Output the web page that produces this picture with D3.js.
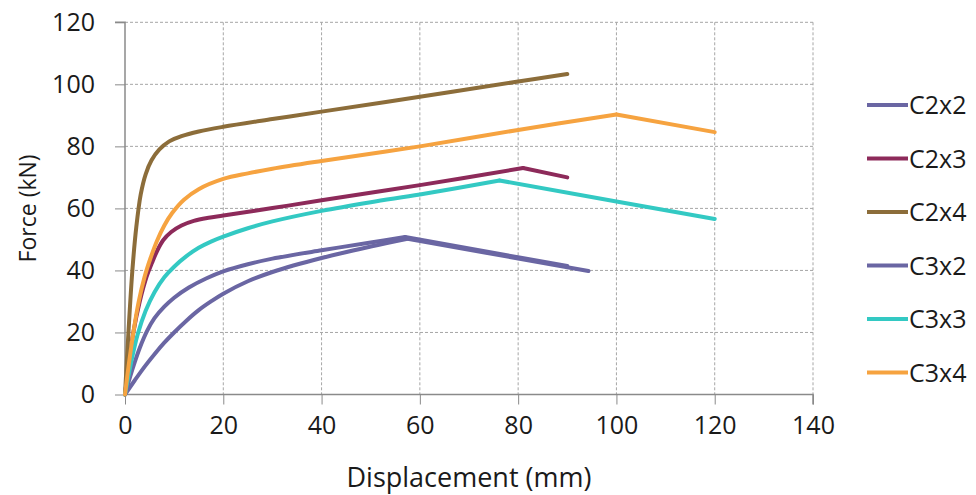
<!DOCTYPE html>
<html><head><meta charset="utf-8">
<script src="https://cdn.jsdelivr.net/npm/d3@7"></script>
<style>
html,body{margin:0;padding:0;background:#fff;}
text{font-family:"Open Sans",sans-serif;fill:#1a1a1a;}
</style></head>
<body><svg id="chart" width="976" height="495"></svg>
<script>
// ---- data ----
const seriesNames = ["C2x2","C2x3","C2x4","C3x2","C3x3","C3x4"];
const seriesColors = ["#6a66a3","#8d2a5a","#8c6d3a","#6a66a3","#33c9c3","#f6a340"];
const C2x2 = [[0,0],[1,5.5],[2,10.5],[3,15],[4.5,20.5],[6,24.6],[8,28.3],[10,31.2],[13,34.5],[16.5,37.4],[20,39.7],[25,42],[30,43.8],[40,46.5],[50,49],[57,50.8],[90,41.4]];
const C2x3 = [[0,0],[0.8,10],[1.7,20],[3,30],[4.4,38],[5.5,42.5],[6.6,46.5],[7.8,49.8],[9.4,52.4],[11.5,54.5],[14,56],[17,57],[20,57.7],[30,60.1],[40,62.6],[60,67.5],[81,73],[90,70]];
const C2x4 = [[0,0],[0.7,20],[1.5,40],[2.3,54],[3.2,64.5],[4.2,71],[5.4,75.5],[7,79],[9,81.6],[11.5,83.3],[15,84.8],[20,86.3],[30,88.8],[40,91.2],[60,96],[80,100.9],[90,103.3]];
const C3x2 = [[0,0],[2,4.6],[4,9],[6,13],[8,16.7],[10,20],[12.5,23.8],[15,27.2],[17.5,30],[20,32.5],[25,36.5],[30,39.5],[40,44],[50,47.7],[57.5,50.2],[94.3,39.8]];
const C3x3 = [[0,0],[1.2,10],[2.6,19.5],[4.2,27],[6,33],[8,37.8],[10,41.2],[12.5,44.6],[15,47.3],[17.5,49.3],[20,50.9],[25,53.6],[30,55.8],[40,59.2],[50,62],[60,64.5],[76.2,69],[100,62.2],[120,56.6]];
const C3x4 = [[0,0],[0.8,10],[1.7,20],[2.8,30],[4,38],[5.2,44],[6.5,49.5],[8,54.5],[9.6,58.5],[12,62.8],[15,66.2],[20,69.5],[25,71.3],[30,72.8],[40,75.3],[60,80],[80,85.3],[100,90.3],[120,84.6]];
const seriesData = [C2x2, C2x3, C2x4, C3x2, C3x3, C3x4];
const xTicks = [0,20,40,60,80,100,120,140];
const yTicks = [0,20,40,60,80,100,120];
const xTitle = "Displacement (mm)";
const yTitle = "Force (kN)";

// ---- layout ----
const svg = d3.select("#chart");
const L = 125, R = 813, T = 22.3, B = 394.5;
const x = d3.scaleLinear().domain([0,140]).range([L,R]);
const y = d3.scaleLinear().domain([0,120]).range([B,T]);

// gridlines
const g = svg.append("g");
g.selectAll("line.hg").data(yTicks.filter(d=>d>0)).enter().append("line")
  .attr("x1",L).attr("x2",R).attr("y1",d=>y(d)).attr("y2",d=>y(d))
  .attr("stroke","#a6a6a6").attr("stroke-width",1).attr("stroke-dasharray","3,2");
g.selectAll("line.vg").data(xTicks.filter(d=>d>0)).enter().append("line")
  .attr("x1",d=>x(d)).attr("x2",d=>x(d)).attr("y1",T).attr("y2",B)
  .attr("stroke","#a6a6a6").attr("stroke-width",1).attr("stroke-dasharray","3,2");

// axes
const xAxis = d3.axisBottom(x).tickValues(xTicks).tickSize(10).tickPadding(12);
const yAxis = d3.axisLeft(y).tickValues(yTicks).tickSize(10).tickPadding(20);
const gx = svg.append("g").attr("transform",`translate(0,${B})`).call(xAxis);
const gy = svg.append("g").attr("transform",`translate(${L},0)`).call(yAxis);
[gx,gy].forEach(a=>{
  a.select(".domain").attr("stroke","#8a8a8a").attr("stroke-width",1.5);
  a.selectAll(".tick line").attr("stroke","#8a8a8a").attr("stroke-width",1);
  a.selectAll("text").style("font-family","'Open Sans', sans-serif").style("font-size","25px").attr("fill","#1a1a1a");
});
gy.select(".domain").attr("d",`M-10,${T}H0V${B}`);
gx.select(".domain").attr("d",`M${L},0H${R}V10`);

// series
const lineSmooth = d3.line().x(d=>x(d[0])).y(d=>y(d[1])).curve(d3.curveCatmullRom.alpha(0.5));
const lineStraight = d3.line().x(d=>x(d[0])).y(d=>y(d[1]));
seriesData.forEach((data,i)=>{
  const peak = d3.maxIndex(data, d=>d[1]);
  const rise = data.slice(0, peak+1), fall = data.slice(peak);
  svg.append("path").attr("d", lineSmooth(rise)).attr("fill","none")
    .attr("stroke",seriesColors[i]).attr("stroke-width",4).attr("stroke-linejoin","round").attr("stroke-linecap","round");
  if (fall.length > 1)
    svg.append("path").attr("d", lineStraight(fall)).attr("fill","none")
      .attr("stroke",seriesColors[i]).attr("stroke-width",4).attr("stroke-linejoin","round").attr("stroke-linecap","round");
});

// axis titles
svg.append("text").attr("x",(L+R)/2).attr("y",487).attr("text-anchor","middle")
  .style("font-size","27px").text(xTitle);
svg.append("text").attr("transform",`translate(36,${(T+B)/2}) rotate(-90)`).attr("text-anchor","middle")
  .style("font-size","23px").text(yTitle);

// legend
const lg = svg.append("g");
seriesNames.forEach((n,i)=>{
  const yy = 105 + i*53.5;
  lg.append("line").attr("x1",867).attr("x2",908).attr("y1",yy).attr("y2",yy)
    .attr("stroke",seriesColors[i]).attr("stroke-width",4);
  lg.append("text").attr("x",909).attr("y",yy).attr("dy","0.36em").style("font-size","25px").text(n);
});
</script></body></html>
